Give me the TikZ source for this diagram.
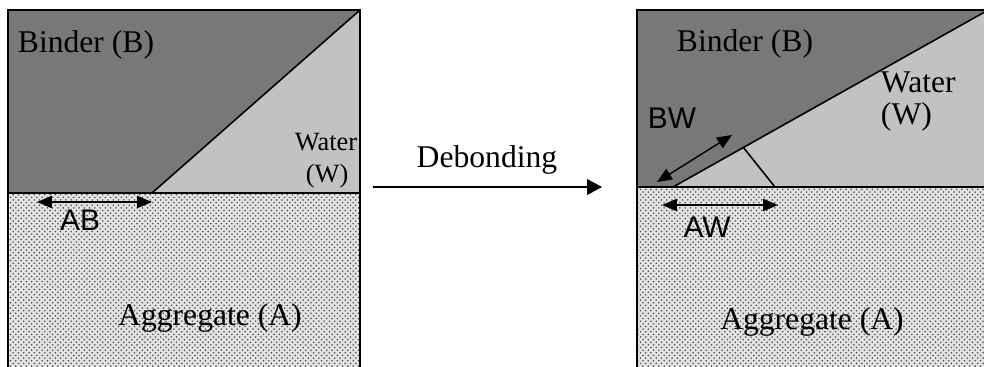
\documentclass[tikz,border=0pt]{standalone}
\usepackage{fontspec}
\setmainfont{Liberation Serif}
\setsansfont{Liberation Sans}
\usetikzlibrary{arrows.meta,patterns}

\definecolor{binder}{gray}{0.47}
\definecolor{water}{gray}{0.76}

\tikzset{
  lbl/.style={font=\fontsize{18}{21}\selectfont, inner sep=0pt},
  smlbl/.style={font=\fontsize{15}{18}\selectfont, inner sep=0pt},
  sflbl/.style={font=\sffamily\fontsize{17}{20}\selectfont, inner sep=0pt},
  dim/.style={thick, {Triangle[length=8.5pt,width=7pt]}-{Triangle[length=8.5pt,width=7pt]}},
  aggr/.style={fill=gray!22, postaction={pattern=crosshatch dots, pattern color=gray!60!black}}
}

\begin{document}
\begin{tikzpicture}[x=0.02cm, y=-0.02cm, line width=1.1pt]
  \useasboundingbox (0,0) rectangle (984,366);
  \clip (0,0) rectangle (984,366);

  % left: bonded
  \fill[binder] (8,10) -- (360,10) -- (152,193) -- (8,193) -- cycle;
  \fill[water] (360,10) -- (360,193) -- (152,193) -- cycle;
  \fill[aggr] (8,193) rectangle (360,370);
  \draw (8,370) -- (8,10) -- (360,10) -- (360,370);
  \draw (8,193) -- (360,193);
  \draw[line width=0.9pt] (152,193) -- (360,10);

  \node[lbl] (binL) at (86,45) {Binder (B)};
  \node[smlbl, anchor=east] (watL) at (358,142) {Water};
  \node[smlbl, anchor=west] (wL) at (305,176) {(W)};
  \node[lbl] (aggL) at (210,318) {Aggregate (A)};
  \coordinate (ab1) at (37,202);
  \coordinate (ab2) at (152,202);
  \draw[dim] (ab1) -- (ab2);
  \node[sflbl] (AB) at (80,220) {AB};

  % arrow between the two states
  \coordinate (deb1) at (373,187);
  \coordinate (deb2) at (602,187);
  \draw[thick, -{Triangle[length=8.5pt,width=9pt]}] (deb1) -- (deb2);
  \node[lbl] (deb) at (487,160) {Debonding};

  % right: debonded
  \fill[binder] (637,10) -- (990,10) -- (673,187) -- (637,187) -- cycle;
  \fill[water] (990,10) -- (990,187) -- (673,187) -- cycle;
  \fill[aggr] (637,187) rectangle (990,370);
  \draw (637,370) -- (637,10) -- (990,10);
  \draw (637,187) -- (990,187);
  \draw[line width=0.9pt] (673,187) -- (990,9);
  \draw[line width=0.9pt] (743,147) -- (775,187);

  \node[lbl] (binR) at (745,44) {Binder (B)};
  \node[lbl, anchor=west] (watR) at (880,82) {Water};
  \node[lbl, anchor=west] (wR) at (880,117) {(W)};
  \node[lbl] (aggR) at (812,322) {Aggregate (A)};
  \coordinate (bw1) at (657,182);
  \coordinate (bw2) at (732,135);
  \draw[dim] (bw1) -- (bw2);
  \node[sflbl] (BW) at (672,118) {BW};
  \coordinate (aw1) at (662,205);
  \coordinate (aw2) at (778,205);
  \draw[dim] (aw1) -- (aw2);
  \node[sflbl] (AW) at (707,227) {AW};
\end{tikzpicture}
\end{document}
